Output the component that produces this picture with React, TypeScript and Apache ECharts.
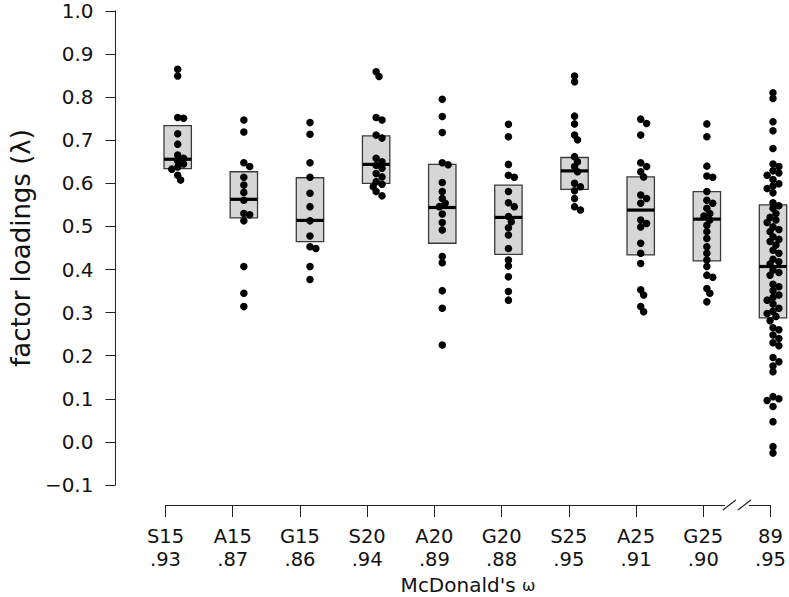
import React, { useEffect, useRef } from "react";
import * as echarts from "echarts";

const categories = ["S15", "A15", "G15", "S20", "A20", "G20", "S25", "A25", "G25", "89"];
const omegaLabels = [".93", ".87", ".86", ".94", ".89", ".88", ".95", ".91", ".90", ".95"];

const boxQ1 = [0.634, 0.52, 0.465, 0.6, 0.461, 0.435, 0.586, 0.434, 0.42, 0.288];
const boxMedian = [0.656, 0.563, 0.514, 0.644, 0.544, 0.521, 0.629, 0.538, 0.517, 0.407];
const boxQ3 = [0.734, 0.627, 0.613, 0.71, 0.644, 0.596, 0.66, 0.615, 0.581, 0.55];

const loadS15 = [0.865, 0.849, 0.753, 0.751, 0.715, 0.691, 0.666, 0.658, 0.652, 0.645, 0.638, 0.633, 0.619, 0.608];
const loadA15 = [0.747, 0.719, 0.648, 0.639, 0.614, 0.596, 0.579, 0.561, 0.53, 0.527, 0.513, 0.407, 0.345, 0.314];
const loadG15 = [0.741, 0.714, 0.648, 0.614, 0.577, 0.546, 0.513, 0.478, 0.453, 0.449, 0.407, 0.377];
const loadS20 = [0.859, 0.848, 0.753, 0.747, 0.712, 0.705, 0.658, 0.65, 0.642, 0.635, 0.623, 0.615, 0.604, 0.598, 0.592, 0.581, 0.571];
const loadA20 = [0.795, 0.755, 0.718, 0.648, 0.643, 0.602, 0.581, 0.565, 0.554, 0.546, 0.529, 0.509, 0.492, 0.43, 0.416, 0.351, 0.31, 0.225];
const loadG20 = [0.737, 0.708, 0.644, 0.619, 0.614, 0.581, 0.555, 0.546, 0.523, 0.511, 0.497, 0.48, 0.449, 0.422, 0.408, 0.383, 0.349, 0.329];
const loadS25 = [0.849, 0.836, 0.756, 0.738, 0.712, 0.701, 0.662, 0.65, 0.639, 0.627, 0.6, 0.592, 0.583, 0.565, 0.546, 0.538];
const loadA25 = [0.749, 0.739, 0.712, 0.648, 0.639, 0.627, 0.615, 0.573, 0.565, 0.554, 0.515, 0.507, 0.499, 0.461, 0.438, 0.414, 0.353, 0.341, 0.314, 0.302];
const loadG25 = [0.738, 0.708, 0.64, 0.617, 0.614, 0.581, 0.561, 0.554, 0.542, 0.53, 0.524, 0.515, 0.503, 0.488, 0.472, 0.453, 0.438, 0.422, 0.407, 0.387, 0.382, 0.356, 0.345, 0.325];
const load89 = [0.81, 0.797, 0.743, 0.722, 0.681, 0.645, 0.639, 0.629, 0.624, 0.619, 0.609, 0.599, 0.594, 0.588, 0.578, 0.555, 0.548, 0.542, 0.53, 0.521, 0.515, 0.509, 0.499, 0.493, 0.488, 0.476, 0.47, 0.465, 0.457, 0.445, 0.438, 0.424, 0.418, 0.413, 0.399, 0.393, 0.387, 0.366, 0.36, 0.351, 0.341, 0.335, 0.329, 0.32, 0.31, 0.303, 0.298, 0.291, 0.281, 0.265, 0.26, 0.248, 0.24, 0.23, 0.223, 0.196, 0.186, 0.176, 0.163, 0.105, 0.1, 0.096, 0.082, 0.047, -0.011, -0.026];

const columns = [loadS15, loadA15, loadG15, loadS20, loadA20, loadG20, loadS25, loadA25, loadG25, load89];

const FONT = "DejaVu Sans";
const W = 789;
const H = 597;
const X0 = 165.5; // pixel of first category
const XR = 16; // right margin (last category)
const Y_LEFT = 102; // y axis position
const PLOT_TOP = 11;
const PLOT_BOTTOM = 112;
const XAXIS_Y = 505;

const unitX = (W - XR - X0) / 9;
const unitY = (H - PLOT_BOTTOM - PLOT_TOP) / 1.1;

// simple beeswarm: offsets (in category units) so dots don't pile up completely
function swarm(values: number[], col: number): number[][] {
  const placed: { x: number; y: number }[] = [];
  const out: number[][] = [];
  const minD = 5.5;
  const steps = [0, 3, -3, 6, -6, 9, -9, 12, -12];
  values.forEach((v) => {
    const py = v * unitY;
    let chosen = 0;
    for (const s of steps) {
      const ok = placed.every((p) => Math.hypot(p.x - s, p.y - py) >= minD);
      if (ok) {
        chosen = s;
        break;
      }
    }
    placed.push({ x: chosen, y: py });
    out.push([col + chosen / unitX, v]);
  });
  return out;
}

export default function App() {
  const ref = useRef<HTMLDivElement>(null);
  useEffect(() => {
    if (!ref.current) return;
    const chart = echarts.init(ref.current, null, { renderer: "svg" });
    const points: number[][] = [];
    columns.forEach((vals, i) => swarm(vals, i).forEach((p) => points.push(p)));
    const boxes = categories.map((_, i) => [i, boxQ1[i], boxMedian[i], boxQ3[i]]);

    chart.setOption({
      animation: false,
      backgroundColor: "#ffffff",
      textStyle: { fontFamily: FONT },
      grid: [
        { left: Y_LEFT, right: XR, top: PLOT_TOP, bottom: PLOT_BOTTOM, containLabel: false },
        { left: X0, right: XR, top: XAXIS_Y - 1, height: 1, containLabel: false },
      ],
      xAxis: [
        {
          type: "value",
          gridIndex: 0,
          min: -(X0 - Y_LEFT) / unitX,
          max: 9,
          show: false,
          axisLine: { onZero: false },
        },
        {
          type: "value",
          gridIndex: 1,
          min: 0,
          max: 9,
          interval: 1,
          axisLine: { show: true, onZero: false, lineStyle: { color: "#222", width: 1 } },
          axisTick: { show: true, length: 12, lineStyle: { color: "#222", width: 1 } },
          splitLine: { show: false },
          axisLabel: {
            margin: 20,
            fontSize: 19.5,
            lineHeight: 23,
            color: "#111",
            fontFamily: FONT,
            formatter: (v: number) => `${categories[Math.round(v)]}\n${omegaLabels[Math.round(v)]}`,
          },
          name: "McDonald's {w|ω}",
          nameLocation: "middle",
          nameGap: 70,
          nameTextStyle: {
            fontSize: 20,
            lineHeight: 20,
            color: "#111",
            fontFamily: FONT,
            rich: { w: { fontSize: 16, lineHeight: 20, color: "#111", fontFamily: FONT } },
          },
        },
      ],
      yAxis: [
        {
          type: "value",
          gridIndex: 0,
          min: -0.1,
          max: 1.0,
          interval: 0.1,
          axisLine: { show: true, onZero: false, lineStyle: { color: "#222", width: 1 } },
          axisTick: { show: true, length: 10, lineStyle: { color: "#222", width: 1 } },
          splitLine: { show: false },
          axisLabel: {
            margin: 22,
            fontSize: 20,
            color: "#111",
            fontFamily: FONT,
            formatter: (v: number) => (v < -0.001 ? "−" + Math.abs(v).toFixed(1) : Math.abs(v).toFixed(1)),
          },
          name: "factor loadings (λ)",
          nameLocation: "middle",
          nameGap: 80,
          nameRotate: 90,
          nameTextStyle: { fontSize: 26, color: "#111", fontFamily: FONT },
        },
        { type: "value", gridIndex: 1, show: false },
      ],
      series: [
        {
          type: "custom",
          xAxisIndex: 0,
          yAxisIndex: 0,
          z: 1,
          data: boxes,
          encode: { x: 0, y: [1, 2, 3] },
          renderItem: (params: any, api: any) => {
            const x = api.value(0);
            const lo = api.coord([x, api.value(1)]);
            const md = api.coord([x, api.value(2)]);
            const hi = api.coord([x, api.value(3)]);
            const halfW = api.size([1, 0])[0] * 0.207;
            return {
              type: "group",
              children: [
                {
                  type: "rect",
                  shape: { x: lo[0] - halfW, y: hi[1], width: halfW * 2, height: lo[1] - hi[1] },
                  style: { fill: "#d6d6d6", stroke: "#3a3a3a", lineWidth: 1.3 },
                },
                {
                  type: "line",
                  shape: { x1: lo[0] - halfW, y1: md[1], x2: lo[0] + halfW, y2: md[1] },
                  style: { stroke: "#000", lineWidth: 3.2 },
                },
              ],
            };
          },
        },
        {
          type: "scatter",
          xAxisIndex: 0,
          yAxisIndex: 0,
          z: 2,
          clip: false,
          symbol: "circle",
          symbolSize: 7.5,
          itemStyle: { color: "#000", opacity: 1 },
          data: points,
        },
      ],
    });

    const cx = chart.convertToPixel({ xAxisIndex: 1 }, 8.5) as unknown as number;
    chart.setOption({
      graphic: [
        { type: "rect", shape: { x: cx - 12, y: XAXIS_Y - 2, width: 24, height: 4 }, style: { fill: "#fff" }, z: 100 },
        { type: "line", shape: { x1: cx - 14, y1: XAXIS_Y + 5, x2: cx - 1, y2: XAXIS_Y - 5 }, style: { stroke: "#222", lineWidth: 1.2 }, z: 101 },
        { type: "line", shape: { x1: cx + 1, y1: XAXIS_Y + 5, x2: cx + 14, y2: XAXIS_Y - 5 }, style: { stroke: "#222", lineWidth: 1.2 }, z: 101 },
      ],
    });

    return () => chart.dispose();
  }, []);

  return <div ref={ref} style={{ position: "fixed", left: 0, top: 0, width: W, height: H }} />;
}
